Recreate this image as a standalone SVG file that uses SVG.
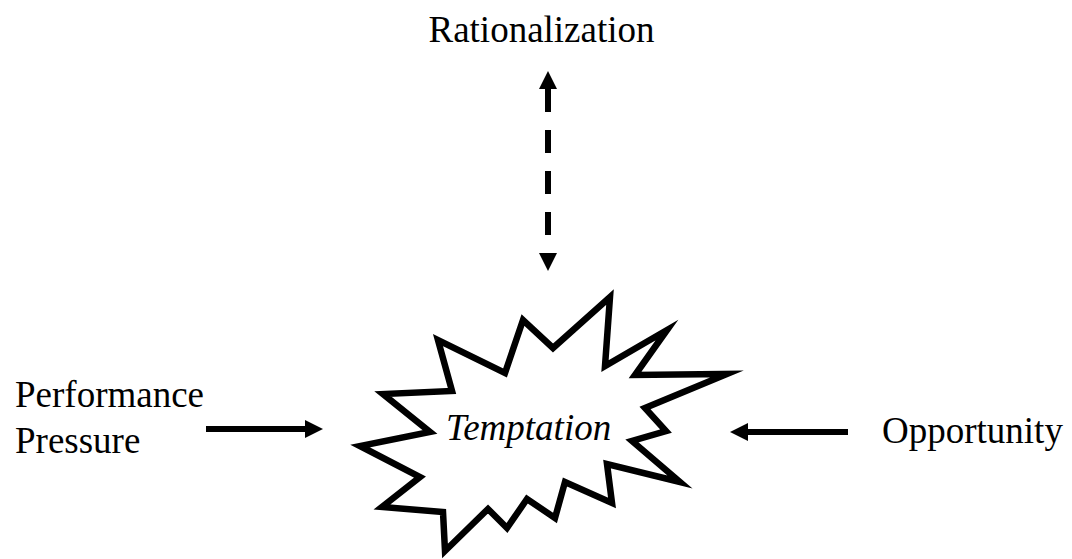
<svg xmlns="http://www.w3.org/2000/svg" width="1072" height="559" viewBox="0 0 1072 559">
<style>
.lbl{font-family:"Liberation Serif","Times New Roman",serif;font-size:37px;fill:#000}
.it{font-style:italic}
.conn{stroke:#000;stroke-width:6;fill:none}
.burst{fill:#fff;stroke:#000;stroke-width:6.5;stroke-linejoin:miter;stroke-miterlimit:12}
</style>
<defs>
<marker id="ah" markerUnits="userSpaceOnUse" markerWidth="18" markerHeight="18" refX="0" refY="9" orient="auto-start-reverse" viewBox="0 0 18 18">
<path d="M0,0 L18,9 L0,18 Z" fill="#000"/>
</marker>
</defs>
<rect width="1072" height="559" fill="#fff"/>
<g id="connectors">
<line class="conn" x1="548" y1="89" x2="548" y2="253" stroke-dasharray="23 18" marker-start="url(#ah)" marker-end="url(#ah)"/>
<line class="conn" x1="206" y1="429" x2="305" y2="429" marker-end="url(#ah)"/>
<line class="conn" x1="848" y1="432" x2="748" y2="432" marker-end="url(#ah)"/>
</g>
<g id="temptation">
<polygon class="burst" points="610,297 605,366 667,330 635,375 727,374 645,408 666,431 632,441 680,482 607,464 612,503 565,482 555,518 527,499 507,528 488,509 445,551 443,512 382,507 420,477 360,446 430,432 383,394 452,391 438,340 505,373 523,320 553,348"/>
<text class="lbl it" x="446" y="440">Temptation</text>
</g>
<g id="rationalization">
<text class="lbl" x="541.5" y="42" text-anchor="middle">Rationalization</text>
</g>
<g id="performance-pressure">
<text class="lbl" x="15" y="407">Performance</text>
<text class="lbl" x="15" y="453">Pressure</text>
</g>
<g id="opportunity">
<text class="lbl" x="882" y="443">Opportunity</text>
</g>
</svg>
